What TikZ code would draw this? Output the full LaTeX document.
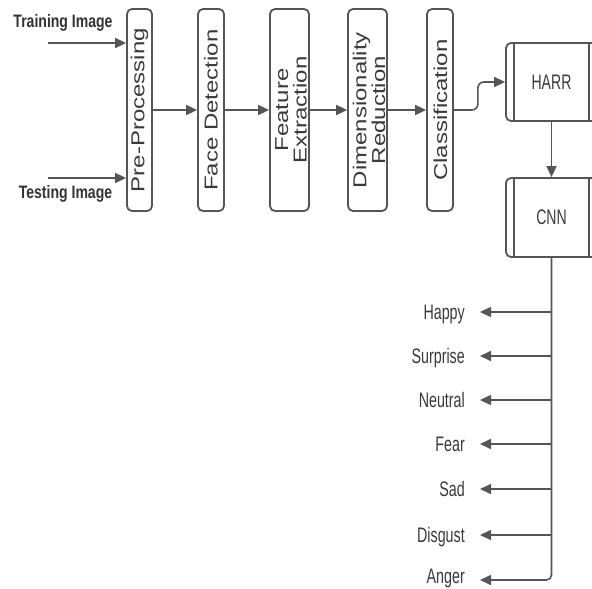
\documentclass[tikz,border=0pt]{standalone}
\usepackage{fontspec}
\setmainfont{Liberation Sans}
\usetikzlibrary{arrows.meta}
\definecolor{ln}{HTML}{555555}
\definecolor{tx}{HTML}{3A3A3A}
\newcommand{\vtext}[1]{\rotatebox{90}{\scalebox{1}[0.78]{#1}}}
\newcommand{\htext}[2]{\scalebox{#1}[1]{#2}}
\begin{document}
\begin{tikzpicture}[x=1pt,y=-1pt,
  box/.style={draw=ln, line width=1.8pt, rounded corners=5pt, inner sep=0pt,
     minimum height=202pt},
  vt/.style={inner sep=0pt, text=tx, font=\fontsize{24}{22}\selectfont},
  clbox/.style={draw=ln, line width=1.8pt, rounded corners=5pt, inner sep=0pt, text=tx,
     minimum width=91pt, minimum height=78pt, font=\fontsize{21}{21}\selectfont},
  arr/.style={draw=ln, line width=1.6pt, -{Triangle[length=11pt,width=10pt]}},
  lbl/.style={inner sep=0pt, anchor=east, text=tx, text height=14.3pt, text depth=0pt,
     font=\fontsize{21}{21}\selectfont},
  inlbl/.style={inner sep=0pt, text=black!80, text height=12.9pt, text depth=0pt,
     font=\fontsize{18}{18}\selectfont\bfseries}
]
\useasboundingbox (0,0) rectangle (592,589);
\fill[white] (0,0) rectangle (592,589);

% input labels
\node[inlbl] (train) at (63,21.5) {\htext{0.78}{Training Image}};
\node[inlbl] (test) at (65.5,192) {\htext{0.78}{Testing Image}};

% pipeline boxes
\node[box, minimum width=25pt] (pre) at (139.5,110) {};
\node[box, minimum width=26pt] (face) at (211,110) {};
\node[box, minimum width=39pt] (feat) at (289.5,110) {};
\node[box, minimum width=39pt] (dim) at (367.5,110) {};
\node[box, minimum width=26pt] (cls) at (440,110) {};

\node[vt] (tpre) at (pre.center) {\vtext{Pre-Processing}};
\node[vt] (tface) at (face.center) {\vtext{Face Detection}};
\node[vt] (tfeat) at ([xshift=4pt]feat.center)
  {\vtext{\begin{tabular}{@{}c@{}}Feature\\Extraction\end{tabular}}};
\node[vt] (tdim) at ([xshift=4pt]dim.center)
  {\vtext{\begin{tabular}{@{}c@{}}Dimensionality\\Reduction\end{tabular}}};
\node[vt] (tcls) at ([xshift=0.5pt]cls.center) {\vtext{Classification}};

% HARR / CNN
\node[clbox] (harr) at (551.5,82) {\htext{0.67}{HARR}};
\node[clbox, minimum height=79pt] (cnn) at (551.5,217.5) {\htext{0.67}{CNN}};
\foreach \n in {harr,cnn}{
  \draw[ln, line width=1.5pt] ([xshift=9pt]\n.north west) -- ([xshift=9pt]\n.south west);
  \draw[ln, line width=1.5pt] ([xshift=-9pt]\n.north east) -- ([xshift=-9pt]\n.south east);
}

% input arrows
\coordinate (trs) at (48,43);
\coordinate (tes) at (48,178);
\draw[arr] (trs) -- (trs -| pre.west);
\draw[arr] (tes) -- (tes -| pre.west);

% pipeline arrows
\draw[arr] (pre) -- (face);
\draw[arr] (face) -- (feat);
\draw[arr] (feat) -- (dim);
\draw[arr] (dim) -- (cls);
\draw[arr, rounded corners=6pt] (cls.east) -- ++(24,0) |- (harr.west);
\draw[arr] (harr) -- (cnn);

% emotions
\foreach \nm/\t/\yy/\ly in {happy/Happy/312/312, surprise/Surprise/356/356, neutral/Neutral/400/400,
   fear/Fear/444/444, sad/Sad/489/489, disgust/Disgust/535/535, anger/Anger/580/576}{
  \coordinate (tip-\nm) at (480,\yy);
  \node[lbl] (\nm) at (465,\ly) {\htext{0.68}{\t}};
}
\draw[arr, rounded corners=5pt] (cnn.south) |- (tip-anger);
\foreach \nm in {happy,surprise,neutral,fear,sad,disgust}{
  \draw[arr] (cnn.south |- tip-\nm) -- (tip-\nm);
}
\end{tikzpicture}
\end{document}
